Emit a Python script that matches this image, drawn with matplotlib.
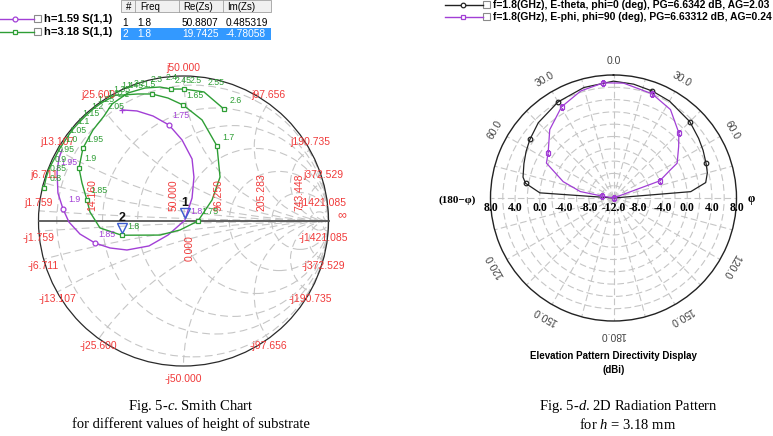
import numpy as np
import matplotlib
matplotlib.use("Agg")
import matplotlib.pyplot as plt
from matplotlib.patches import Circle, Rectangle
from matplotlib.transforms import ScaledTranslation

plt.rcParams["font.family"] = "Liberation Sans"
plt.rcParams["mathtext.fontset"] = "custom"
plt.rcParams["mathtext.rm"] = "Liberation Serif"
plt.rcParams["mathtext.it"] = "Liberation Serif:italic"

W, H, DPI = 773, 436, 100

# ---------------- Smith chart: S(1,1) (reflection coeff.)
H159_NAME = "h=1.59 S(1,1)"
H159_F = [1.70, 1.71, 1.73, 1.75, 1.76, 1.77, 1.78, 1.79, 1.80, 1.81, 1.82,
          1.83, 1.84, 1.85, 1.86, 1.88, 1.90, 1.92, 1.95, 1.98, 2.00]
H159_RE = [-0.424, -0.321, -0.210, -0.100, -0.010, 0.059, 0.072, 0.059, 0.009,
           -0.107, -0.238, -0.390, -0.507, -0.610, -0.714, -0.790, -0.831,
           -0.866, -0.872, -0.859, -0.838]
H159_IM = [0.766, 0.759, 0.724, 0.662, 0.559, 0.428, 0.303, 0.159, 0.005,
           -0.097, -0.172, -0.200, -0.186, -0.152, -0.090, -0.007, 0.083,
           0.193, 0.338, 0.434, 0.490]
H159_MARKS = [1.75, 1.85, 1.90]
H159_LABELS = [1.75, 1.80, 1.85, 1.90, 1.95]

H318_NAME = "h=3.18 S(1,1)"
H318_F = [0.80, 0.85, 0.90, 0.95, 1.00, 1.05, 1.10, 1.15, 1.20, 1.25, 1.30,
          1.35, 1.40, 1.45, 1.50, 1.55, 1.60, 1.65, 1.675, 1.70, 1.72, 1.74,
          1.75, 1.77, 1.78, 1.80, 1.82, 1.84, 1.85, 1.875, 1.90, 1.95, 2.00,
          2.05, 2.10, 2.20, 2.30, 2.40, 2.45, 2.50, 2.55, 2.60]
H318_RE = [-0.962, -0.948, -0.925, -0.890, -0.855, -0.810, -0.770, -0.720,
           -0.675, -0.620, -0.565, -0.510, -0.466, -0.417, -0.314, -0.217,
           -0.107, -0.003, 0.128, 0.231, 0.252, 0.197, 0.100, -0.024, -0.162,
           -0.427, -0.576, -0.645, -0.666, -0.700, -0.721, -0.693, -0.624,
           -0.548, -0.493, -0.383, -0.266, -0.162, -0.086, 0.003, 0.141, 0.279]
H318_IM = [0.228, 0.297, 0.365, 0.430, 0.497, 0.565, 0.625, 0.680, 0.725,
           0.775, 0.815, 0.845, 0.869, 0.869, 0.876, 0.876, 0.848, 0.800,
           0.697, 0.517, 0.303, 0.145, 0.000, -0.062, -0.097, -0.098, -0.048,
           0.062, 0.145, 0.262, 0.366, 0.503, 0.628, 0.724, 0.807, 0.883,
           0.917, 0.924, 0.910, 0.910, 0.890, 0.772]
H318_MARKS = [0.80, 1.55, 1.65, 1.70, 1.75, 1.80, 1.85, 1.90, 1.95, 2.45,
              2.50, 2.60]
H318_LABELS = [0.80, 0.85, 0.90, 0.95, 1.00, 1.05, 1.10, 1.15, 1.20, 1.25,
               1.30, 1.35, 1.40, 1.45, 1.50, 1.65, 1.70, 1.75, 1.80, 1.85,
               1.90, 1.95, 2.05, 2.10, 2.20, 2.30, 2.40, 2.45, 2.50, 2.55,
               2.60]

# marker table
TABLE_HEAD = ["#", "Freq", "Re(Zs)", "Im(Zs)"]
MARK_ID = ["1", "2"]
MARK_FREQ = ["1.8", "1.8"]
MARK_RE = [50.8807, 19.7425]
MARK_IM = [0.485319, -4.78058]
Z0 = 50.0

# chart grid (ohms)
R_GRID = [3.363, 14.160, 25.974, 50.0, 96.250, 205.283, 743.448]
R_LABELED = [14.160, 50.0, 96.250, 205.283, 743.448]
X_GRID = [1.759, 6.711, 13.107, 25.600, 50.0, 97.656, 190.735, 372.529,
          1421.085]

# ---------------- Radiation pattern (dBi vs theta, deg)
ETH_NAME = "f=1.8(GHz), E-theta, phi=0 (deg), PG=6.6342 dB, AG=2.03"
ETH_T = [-90, -86, -80.5, -77, -69, -62, -55, -45, -30, -15, 0, 10, 20, 30,
         45, 55, 62, 69.5, 75, 80.5, 85.3, 90]
ETH_DB = [-12, 0.0, 2.5, 3.1, 3.6, 4.1, 4.6, 5.3, 6.04, 6.6, 7.0, 6.8, 6.5,
          6.2, 5.55, 4.9, 4.5, 4.07, 3.8, 3.2, 0.6, -12]
ETH_MARKS = [-80.5, -55, -30, 20, 45, 69.5]

EPH_NAME = "f=1.8(GHz), E-phi, phi=90 (deg), PG=6.63312 dB, AG=0.24"
EPH_T = [-90, -80.5, -79, -72, -62.5, -55.5, -43, -29.7, -17, -5, 5, 20.3,
         32.8, 45.1, 51.7, 61.3, 63.7, 69.7, 75, 90]
EPH_DB = [-12, -10.1, -6.5, -3.4, 0.3, 0.9, 3.2, 5.06, 6.2, 6.8, 6.75, 6.07,
          5.1, 3.0, 1.5, -0.2, -1.7, -4.0, -12, -12]
EPH_MARKS = [-90, -80.5, -55.5, -29.7, -5, 20.3, 45.1, 69.7]

R_MIN, R_MAX = -12, 8
RING_TICKS = [-10, -8, -6, -4, -2, 0, 2, 4, 6]
RADIAL_LABELS = [8, 4, 0, -4, -8]
ANGLE_LABELS = [0, 30, -30, 60, -60, 120, -120, 150, -150, 180]

PURPLE = "#A23FD6"
GREEN = "#2E9E35"
RED = "#F03A3A"
GRID_C = "#C6C6C6"


def px_box(left, top, w, h):
    return [left / W, 1 - (top + h) / H, w / W, h / H]


def flabel(f):
    s = ("%.2f" % f).rstrip("0")
    return s + "0" if s.endswith(".") else s


def gamma(re, im):
    z = complex(re, im) / Z0
    g = (z - 1) / (z + 1)
    return g.real, g.imag


fig = plt.figure(figsize=(W / DPI, H / DPI), dpi=DPI)

# ======================= Smith chart =======================
cx, cy, R = 183.5, 221.0, 145.0
ax = fig.add_axes(px_box(0, 40, 380, 360))
ax.set_xlim((0 - cx) / R, (380 - cx) / R)
ax.set_ylim((cy - 400) / R, (cy - 40) / R)
ax.axis("off")

unit = Circle((0, 0), 1, transform=ax.transData)
dash = (0, (7, 4))
for r in R_GRID:
    rn = r / Z0
    ax.add_patch(Circle((rn / (1 + rn), 0), 1 / (1 + rn), fill=False,
                        ec=GRID_C, lw=0.8, ls=dash))
for x in X_GRID:
    xn = x / Z0
    for s in (1, -1):
        c = Circle((1, s / xn), 1 / xn, fill=False, ec=GRID_C, lw=0.8, ls=dash)
        ax.add_patch(c)
        c.set_clip_path(unit)
ax.add_patch(Circle((0, 0), 1, fill=False, ec="#2a2a2a", lw=0.9))
ax.plot([-1, 1], [0, 0], color="#555555", lw=1.3)

for r in R_LABELED:
    rn = r / Z0
    ax.annotate("%.3f" % r, xy=((rn - 1) / (rn + 1), 0), xytext=(-7.5, 7),
                textcoords="offset points", rotation=90, rotation_mode="anchor",
                ha="left", va="center", fontsize=7.5, color=RED)
ax.annotate("0.000", xy=(0.04, 0), xytext=(0, -29), textcoords="offset points",
            rotation=90, rotation_mode="anchor", ha="left", va="center",
            fontsize=7.5, color=RED)

for x in X_GRID:
    for s in (1, -1):
        gx, gy = gamma(0, s * x)
        dy = 5.8 if s > 0 else -5.0
        if x == 50.0 and s < 0:
            dy = -9.5
        dx = -3.5 if x > 1000 else 0
        ax.annotate(("j" if s > 0 else "-j") + "%.3f" % x, xy=(gx, gy),
                    xytext=(dx, dy), textcoords="offset points", ha="center",
                    va="center", fontsize=7.5, color=RED)
ax.annotate("\u221e", xy=(1, 0), xytext=(10, 4), textcoords="offset points",
            ha="center", va="center", fontsize=9, color=RED)

for F, RE, IM, col, mk, marks, labels in [
        (H159_F, H159_RE, H159_IM, PURPLE, "o", H159_MARKS, H159_LABELS),
        (H318_F, H318_RE, H318_IM, GREEN, "s", H318_MARKS, H318_LABELS)]:
    idx = [F.index(f) for f in marks]
    ax.plot(RE, IM, color=col, lw=1.0, marker=mk, markevery=idx, ms=3.5,
            mfc="white", mec=col, mew=0.9)
    for f in labels:
        i = F.index(f)
        ax.annotate(flabel(f), xy=(RE[i], IM[i]), xytext=(8.5, 6.5),
                    textcoords="offset points", ha="center", va="center",
                    fontsize=6.3, color=col)
ax.plot(H159_RE[0], H159_IM[0], marker="+", ms=4, color=PURPLE, mew=0.9)

tri_shift = ax.transData + ScaledTranslation(0, 5.5 / 72, fig.dpi_scale_trans)
for mid, zr, zi in zip(MARK_ID, MARK_RE, MARK_IM):
    gx, gy = gamma(zr, zi)
    ax.plot(gx, gy, marker="v", ms=7, mfc="none", mec="#3A5BD0", mew=1.0,
            transform=tri_shift)
    ax.annotate(mid, xy=(gx, gy), xytext=(0, 12.5), textcoords="offset points",
                ha="center", va="center", fontsize=9, fontweight="bold",
                color="#111111")

# ======================= Radiation pattern =======================
pax = fig.add_axes(px_box(613.5 - 123, 198 - 123, 246, 246), projection="polar")
pax.set_theta_zero_location("N")
pax.set_theta_direction(-1)
pax.set_ylim(R_MIN, R_MAX)
pax.set_yticks(RING_TICKS)
pax.set_xticks(np.deg2rad(np.arange(0, 360, 15)))
pax.set_xticklabels([])
pax.set_yticklabels([])
pax.grid(True, color=GRID_C, ls=(0, (6, 3)), lw=0.8)
pax.spines["polar"].set_color("#222222")
pax.spines["polar"].set_linewidth(1.0)

for T, DB, col, mk, marks in [(ETH_T, ETH_DB, "#222222", "o", ETH_MARKS),
                              (EPH_T, EPH_DB, PURPLE, "s", EPH_MARKS)]:
    idx = [T.index(t) for t in marks]
    pax.plot(np.deg2rad(T), DB, color=col, lw=0.9, marker=mk, markevery=idx,
             ms=3.3, mfc="none", mec=col, mew=0.9)

for r in RADIAL_LABELS:
    for side in (-90, 90):
        pax.annotate("%.1f" % r, xy=(np.deg2rad(side), r), xytext=(0, -7.5),
                     textcoords="offset points", ha="center", va="center",
                     fontsize=8.5, fontweight="bold", family="Liberation Serif")
pax.annotate("%.1f" % R_MIN, xy=(0, R_MIN), xytext=(0, -7.5),
             textcoords="offset points", ha="center", va="center",
             fontsize=8.5, fontweight="bold", family="Liberation Serif")
for a in ANGLE_LABELS:
    pax.text(np.deg2rad(a), R_MAX + 2.2, "%.1f" % abs(a), rotation=-a,
             rotation_mode="anchor", ha="center", va="center", fontsize=7.5,
             color="#444444")

# ======================= figure-level annotations =======================
ov = fig.add_axes([0, 0, 1, 1], zorder=5)
ov.set_xlim(0, W)
ov.set_ylim(H, 0)
ov.axis("off")

# Smith legend
for y, col, mk, name in [(19, PURPLE, "o", H159_NAME), (32, GREEN, "s", H318_NAME)]:
    ov.plot([0, 34], [y, y], color=col, lw=1.0)
    ov.plot(15, y, marker=mk, ms=3.5, mfc="white", mec=col, mew=0.9)
    ov.add_patch(Rectangle((34, y - 3.5), 7, 7, fc="white", ec="#8a8a8a", lw=0.8))
    ov.text(44, y, name, fontsize=8, fontweight="bold", va="center", ha="left")

# marker table
ov.add_patch(Rectangle((121, 0), 150, 12, fc="#F0F0F0", ec="#A0A0A0", lw=0.6))
for xs in (135, 179, 223):
    ov.plot([xs, xs], [0, 12], color="#A0A0A0", lw=0.6)
ov.add_patch(Rectangle((121, 28.5), 150, 11.5, fc="#3399FF", ec="none"))
head_x = [126, 140, 183, 227]
for hx, htxt in zip(head_x, TABLE_HEAD):
    ov.text(hx, 6.5, htxt, fontsize=7, va="center", ha="left")
for k, (mid, mf, zr, zi) in enumerate(zip(MARK_ID, MARK_FREQ, MARK_RE, MARK_IM)):
    yy = 22.5 + 11.5 * k
    colr = "white" if k == 1 else "black"
    vals = [mid, mf, "%.4f" % zr, "%.6g" % zi]
    for hx, v in zip([122.5, 137, 182, 226], vals):
        ov.text(hx, yy, v, fontsize=7.3, va="center", ha="left", color=colr)

# pattern legend
for y, col, mk, name in [(5, "#222222", "o", ETH_NAME), (17, PURPLE, "s", EPH_NAME)]:
    ov.plot([445, 483], [y, y], color=col, lw=1.0)
    ov.plot(463, y, marker=mk, ms=3.3, mfc="white", mec=col, mew=0.9)
    ov.add_patch(Rectangle((483, y - 3.5), 7, 7, fc="white", ec="#8a8a8a", lw=0.8))
    ov.text(493, y, name, fontsize=7.45, fontweight="bold", va="center", ha="left")

ov.text(457, 200, "(180\u2212\u03c6)", fontsize=8, fontweight="bold",
        family="Liberation Serif", ha="center", va="center")
ov.text(751, 199, "\u03c6", fontsize=8.5, fontweight="bold",
        family="Liberation Serif", ha="center", va="center")
ov.text(613.5, 356, "Elevation Pattern Directivity Display", fontsize=7,
        fontweight="bold", ha="center", va="center")
ov.text(613.5, 370, "(dBi)", fontsize=7, fontweight="bold", ha="center",
        va="center")

# captions
ov.text(191, 406, r"Fig. 5-$\mathit{c}$. Smith Chart", fontsize=10.5,
        family="Liberation Serif", ha="center", va="center")
ov.text(191, 424, "for different values of height of substrate", fontsize=10.5,
        family="Liberation Serif", ha="center", va="center")
ov.text(628, 406, r"Fig. 5-$\mathit{d}$. 2D Radiation Pattern", fontsize=10.5,
        family="Liberation Serif", ha="center", va="center")
ov.text(628, 424, r"for $\mathit{h}$ = 3.18 mm", fontsize=10.5,
        family="Liberation Serif", ha="center", va="center")

fig.savefig("out.png", dpi=DPI)
